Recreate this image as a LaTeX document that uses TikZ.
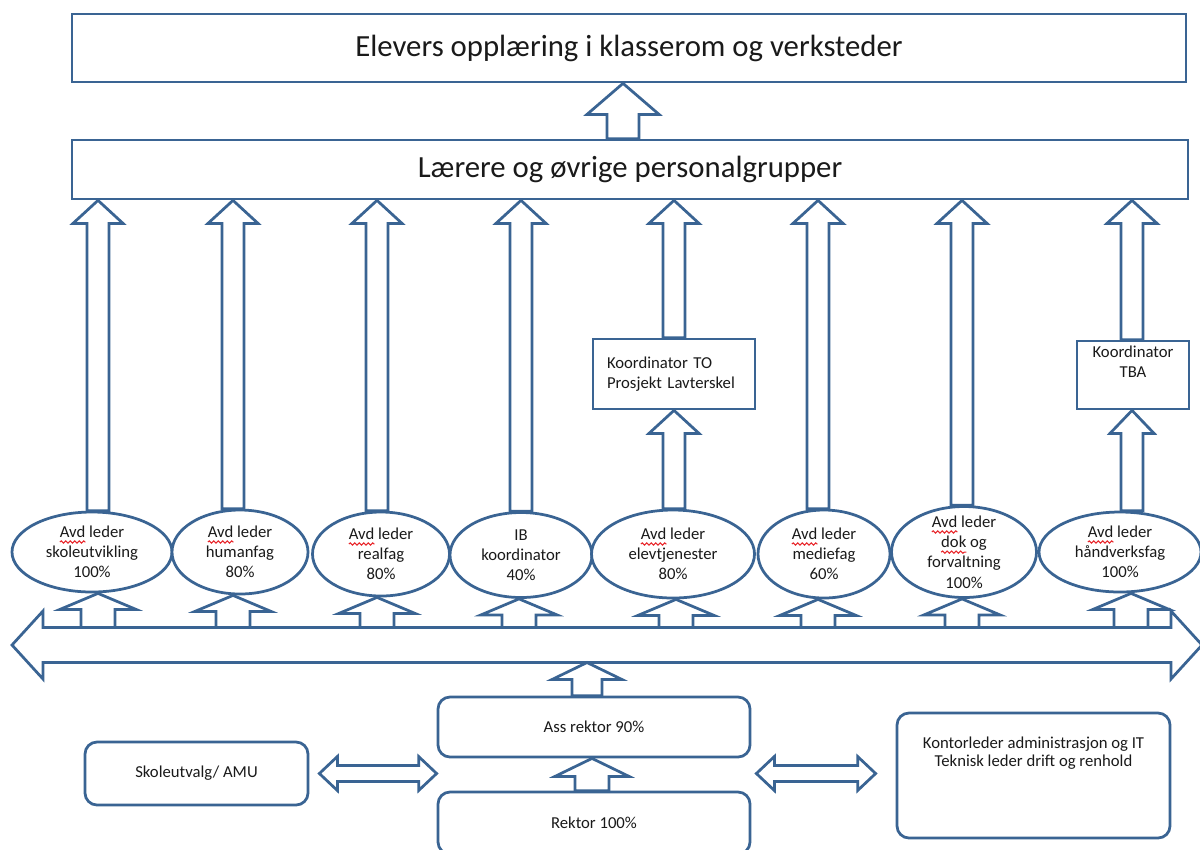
\documentclass[tikz,border=0pt]{standalone}
\usepackage{fontspec}
\setmainfont{Carlito}
\usetikzlibrary{calc,shapes.geometric,decorations.pathmorphing}
\definecolor{orgBlue}{HTML}{3A6493}
\definecolor{orgInk}{HTML}{1A1A1A}
\definecolor{orgSpell}{HTML}{E8262B}
\newlength{\gridu}
\setlength{\gridu}{0.2mm}
% red wavy line under a word, as the spell checker left it
\newsavebox{\spellbox}
\newcommand{\spellmark}[1]{%
  \sbox\spellbox{#1}%
  \rlap{\tikz[overlay]\draw[orgSpell, line width=0.22mm, decorate,
        decoration={snake, amplitude=0.22mm, segment length=0.9mm}]
        (0,-0.9mm) -- (\the\wd\spellbox,-0.9mm);}%
  \usebox\spellbox}
\tikzset{
  blk/.style  = {line width=0.55mm, draw=orgBlue, fill=white, line join=miter},
  box/.style  = {draw=orgBlue, line width=0.55mm, fill=white, inner sep=0},
  rbox/.style = {box, rounded corners=2.4mm},
  oval/.style = {ellipse, draw=orgBlue, line width=0.55mm, fill=white, inner sep=0},
  big/.style  = {font=\fontsize{17.5}{20}\selectfont, text=orgInk},
  lbl/.style  = {font=\fontsize{9.5}{11.5}\selectfont, text=orgInk, align=center,
                 inner sep=0.3mm},
}
% block arrow pointing up. #1 x of column, #2 tail, #3 tip,
% #4 shaft half width, #5 head half width, #6 head length (grid units)
\newcommand{\blkup}[6]{%
  \draw[blk] let \p1=(#2), \p2=(#3), \p3=(#1,0) in
    (\x3-#4*\gridu,\y1) -- (\x3-#4*\gridu,\y2-#6*\gridu) -- (\x3-#5*\gridu,\y2-#6*\gridu)
    -- (\x3,\y2) -- (\x3+#5*\gridu,\y2-#6*\gridu) -- (\x3+#4*\gridu,\y2-#6*\gridu)
    -- (\x3+#4*\gridu,\y1) -- cycle;}
% block arrow with two heads, left to right. #1 left tip, #2 right tip,
% #3 shaft half width, #4 head half width, #5 head length
\newcommand{\blkdbl}[5]{%
  \draw[blk] let \p1=(#1), \p2=(#2) in
    (\x1,\y1) -- (\x1+#5*\gridu,\y1+#4*\gridu) -- (\x1+#5*\gridu,\y1+#3*\gridu)
    -- (\x2-#5*\gridu,\y1+#3*\gridu) -- (\x2-#5*\gridu,\y1+#4*\gridu) -- (\x2,\y1)
    -- (\x2-#5*\gridu,\y1-#4*\gridu) -- (\x2-#5*\gridu,\y1-#3*\gridu)
    -- (\x1+#5*\gridu,\y1-#3*\gridu) -- (\x1+#5*\gridu,\y1-#4*\gridu) -- cycle;}
% one leader. #1 name, #2 x, #3 y, #4 width, #5 height, #6 text
\newcommand{\leadoval}[6]{%
  \node[oval, minimum width=#4, minimum height=#5] (#1) at (#2,#3) {};
  \node[lbl] (#1t) at (#1.center) {#6};}

\begin{document}
\begin{tikzpicture}[x=0.2mm, y=-0.2mm]
\path[use as bounding box, fill=white] (0,0) rectangle (1200,849);

% ===================== the two wide boxes ===========================
\node[box, big, minimum width=222.8mm, minimum height=13.6mm] (elev) at (629,48)
  {Elevers opplæring i klasserom og verksteder};
\node[box, big, minimum width=223.2mm, minimum height=11.8mm] (laerer) at (630,169.5)
  {Lærere og øvrige personalgrupper};
\blkup{623}{laerer.north}{elev.south}{16}{36}{31}

% ===================== the eight leaders ============================
\leadoval{avd1}{92}{552}{32mm}{16mm}{\spellmark{Avd} leder\\skoleutvikling\\100\%}
\leadoval{avd2}{240}{552}{27.2mm}{16.8mm}{\spellmark{Avd} leder\\humanfag\\80\%}
\leadoval{avd3}{381}{554}{27.4mm}{16.8mm}{\spellmark{Avd} leder\\realfag\\80\%}
\leadoval{avd4}{521}{555}{28.4mm}{17mm}{IB\\koordinator\\40\%}
\leadoval{avd5}{673}{554}{32.6mm}{17.6mm}{\spellmark{Avd} leder\\elevtjenester\\80\%}
\leadoval{avd6}{824}{554}{26.4mm}{17.6mm}{\spellmark{Avd} leder\\mediefag\\60\%}
\leadoval{avd7}{964}{552}{29mm}{18.2mm}{\spellmark{Avd} leder\\\spellmark{dok} og\\forvaltning\\100\%}
\leadoval{avd8}{1120}{552}{32.4mm}{16mm}{\spellmark{Avd} leder\\håndverksfag\\100\%}

\node[box, lbl, align=left, minimum width=32.4mm, minimum height=14mm, text width=26.8mm,
      inner xsep=2.8mm] (koordTO) at (674,374) {Koordinator TO\\Prosjekt Lavterskel};
\node[box, minimum width=22.4mm, minimum height=13.6mm] (koordTBA) at (1133,375) {};
\node[lbl, anchor=north] (koordTBAt) at ([yshift=-0.9mm]koordTBA.north) {Koordinator\\TBA};

\foreach \cx/\who in {98/avd1, 233/avd2, 377/avd3, 521/avd4, 818/avd6, 962/avd7}
  {\blkup{\cx}{\who.north}{laerer.south}{11}{25}{23}}
\blkup{674}{avd5.north}{koordTO.south}{11}{25}{23}
\blkup{674}{koordTO.north}{laerer.south}{11}{25}{23}
\blkup{1132}{avd8.north}{koordTBA.south}{11}{22}{23}
\blkup{1132}{koordTBA.north}{laerer.south}{11}{25}{23}

% ===================== the long double arrow ========================
\coordinate (busW) at (12,645);
\coordinate (busE) at (1202,645);
\coordinate (busN) at (600,627.5);
\coordinate (busS) at (600,662.5);
\blkdbl{busW}{busE}{17.5}{34}{31}
\foreach \cx/\who in {98/avd1, 233/avd2, 377/avd3, 519/avd4, 676/avd5, 818/avd6,
                      962/avd7, 1131/avd8}
  {\blkup{\cx}{busN}{\who.south}{17}{38}{16}}

% ===================== management at the bottom =====================
\node[rbox, lbl, minimum width=62.4mm, minimum height=12mm] (ass) at (594,727)
  {Ass rektor 90\%};
\node[rbox, lbl, minimum width=62.4mm, minimum height=12.4mm] (rektor) at (594,823)
  {Rektor 100\%};
\node[rbox, lbl, minimum width=44.6mm, minimum height=12.6mm] (skole) at (196.5,773.5)
  {Skoleutvalg/ AMU};
\node[rbox, minimum width=54.6mm, minimum height=25mm] (kontor) at (1033.5,775.5) {};
\node[lbl, anchor=north, font=\fontsize{9.5}{10.5}\selectfont] (kontort)
  at ([yshift=-4.6mm]kontor.north)
  {Kontorleder administrasjon og IT\\Teknisk leder drift og renhold};

\blkup{592}{rektor.north}{ass.south}{17}{37}{18}
\blkup{587}{ass.north}{busS}{15}{35}{17}
\blkdbl{$(skole.east)+(10,0)$}{ass.west |- skole.east}{8}{17}{18}
\blkdbl{$(ass.east |- skole.east)+(5,0)$}{$(kontor.west)+(-20,0)$}{8}{17}{18}

\end{tikzpicture}
\end{document}
